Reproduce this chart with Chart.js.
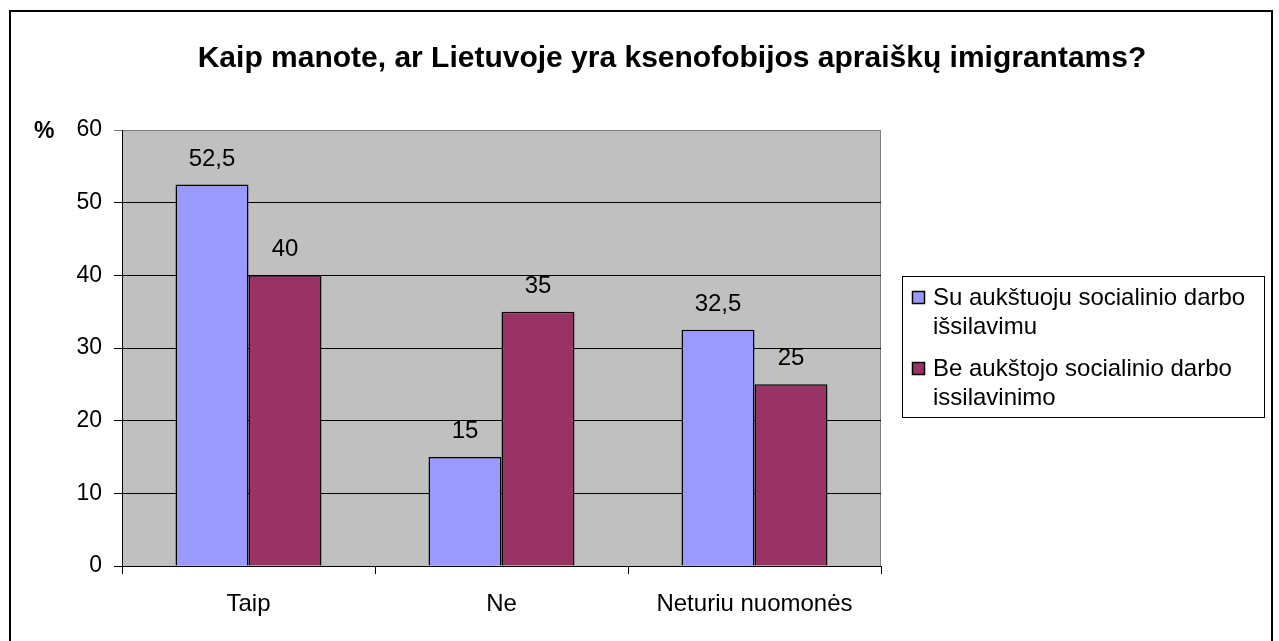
<!DOCTYPE html>
<html>
<head>
<meta charset="utf-8">
<script src="https://cdn.jsdelivr.net/npm/chart.js@4/dist/chart.umd.min.js"></script>
<style>
  html, body { margin: 0; padding: 0; background: #fff; }
  #wrap { width: 1279px; height: 641px; }
</style>
</head>
<body>
<div id="wrap"><canvas id="myChart" width="1279" height="641"></canvas></div>
<script>
// chart data
var title = "Kaip manote, ar Lietuvoje yra ksenofobijos apraiškų imigrantams?";
var categories = ["Taip", "Ne", "Neturiu nuomonės"];
var withDegree = [52.5, 15, 32.5];
var withoutDegree = [40, 35, 25];
var seriesNames = [
  "Su aukštuoju socialinio darbo išsilavimu",
  "Be aukštojo socialinio darbo issilavinimo"
];
// how the legend breaks each name into lines
var legendLines = [
  ["Su aukštuoju socialinio darbo", "išsilavimu"],
  ["Be aukštojo socialinio darbo", "issilavinimo"]
];
var yTicks = [0, 10, 20, 30, 40, 50, 60];

var FONT = "'Liberation Sans', Arial, sans-serif";

// grey plot background, outer frame, title, % label, value labels, legend
var decorPlugin = {
  id: "decor",
  beforeDraw: function (chart) {
    var ctx = chart.ctx;
    var a = chart.chartArea;
    ctx.save();
    ctx.fillStyle = "#fff";
    ctx.fillRect(0, 0, chart.width, chart.height);
    ctx.fillStyle = "#C0C0C0";
    ctx.fillRect(a.left, a.top, a.right - a.left, a.bottom - a.top);
    ctx.strokeStyle = "#808080";
    ctx.lineWidth = 1;
    ctx.beginPath();
    ctx.moveTo(a.left, a.top + 0.5);
    ctx.lineTo(a.right - 0.5, a.top + 0.5);
    ctx.lineTo(a.right - 0.5, a.bottom);
    ctx.stroke();
    ctx.restore();
  },
  afterDraw: function (chart) {
    var ctx = chart.ctx;
    ctx.save();

    // outer frame (bottom edge is cut off in the original)
    ctx.strokeStyle = "#000";
    ctx.lineWidth = 2;
    ctx.beginPath();
    ctx.moveTo(10, 700);
    ctx.lineTo(10, 11);
    ctx.lineTo(1272, 11);
    ctx.lineTo(1272, 700);
    ctx.stroke();

    // title
    ctx.fillStyle = "#000";
    ctx.font = "bold 30px " + FONT;
    ctx.textAlign = "center";
    ctx.textBaseline = "alphabetic";
    ctx.fillText(title, 672, 67);

    // axis unit
    ctx.font = "bold 23px " + FONT;
    ctx.textAlign = "left";
    ctx.fillText("%", 34, 138);

    // value labels above the bars
    ctx.font = "24px " + FONT;
    ctx.textAlign = "center";
    chart.data.datasets.forEach(function (ds, i) {
      chart.getDatasetMeta(i).data.forEach(function (bar, j) {
        var txt = String(ds.data[j]).replace(".", ",");
        ctx.fillText(txt, bar.x, bar.y - 19);
      });
    });

    // legend
    var lx = 902, ly = 276, lw = 362, lh = 141;
    ctx.strokeStyle = "#000";
    ctx.lineWidth = 1;
    ctx.strokeRect(lx + 0.5, ly + 0.5, lw, lh);
    ctx.font = "24px " + FONT;
    ctx.textAlign = "left";
    var baseY = [305, 376];
    chart.data.datasets.forEach(function (ds, i) {
      var by = baseY[i];
      ctx.fillStyle = ds.backgroundColor;
      ctx.fillRect(912, by - 14, 13, 13);
      ctx.strokeStyle = "#000";
      ctx.lineWidth = 1.5;
      ctx.strokeRect(912.5, by - 13.5, 12, 12);
      ctx.fillStyle = "#000";
      legendLines[i].forEach(function (line, k) {
        ctx.fillText(line, 933, by + k * 29);
      });
    });
    ctx.restore();
  }
};

new Chart("myChart", {
  type: "bar",
  data: {
    labels: categories,
    datasets: [
      {
        label: seriesNames[0],
        data: withDegree,
        backgroundColor: "#9999FF",
        borderColor: "#000",
        borderWidth: 1.5,
        barPercentage: 1,
        categoryPercentage: 0.577
      },
      {
        label: seriesNames[1],
        data: withoutDegree,
        backgroundColor: "#993366",
        borderColor: "#000",
        borderWidth: 1.5,
        barPercentage: 1,
        categoryPercentage: 0.577
      }
    ]
  },
  options: {
    responsive: false,
    animation: false,
    layout: {
      padding: { left: 0, top: 130, right: 398, bottom: 0 }
    },
    plugins: {
      legend: { display: false },
      title: { display: false },
      tooltip: { enabled: false }
    },
    scales: {
      x: {
        afterFit: function (s) { s.height = 75; },
        grid: {
          display: true,
          offset: true,
          drawOnChartArea: false,
          drawTicks: true,
          tickLength: 8,
          color: "#000"
        },
        border: { display: true, color: "#000", width: 1 },
        ticks: {
          color: "#000",
          padding: 16,
          font: { family: FONT, size: 24 },
          maxRotation: 0
        }
      },
      y: {
        min: 0,
        max: 60,
        afterFit: function (s) { s.width = 122; },
        afterBuildTicks: function (s) {
          s.ticks = yTicks.map(function (v) { return { value: v }; });
        },
        grid: {
          drawTicks: true,
          tickLength: 8,
          color: function (c) {
            return c.tick && c.tick.value === 60 ? "#808080" : "#000";
          },
          lineWidth: 1
        },
        border: { display: true, color: "#000", width: 1 },
        ticks: {
          color: "#000",
          padding: 12,
          font: { family: FONT, size: 23 }
        }
      }
    }
  },
  plugins: [decorPlugin]
});
</script>
</body>
</html>
